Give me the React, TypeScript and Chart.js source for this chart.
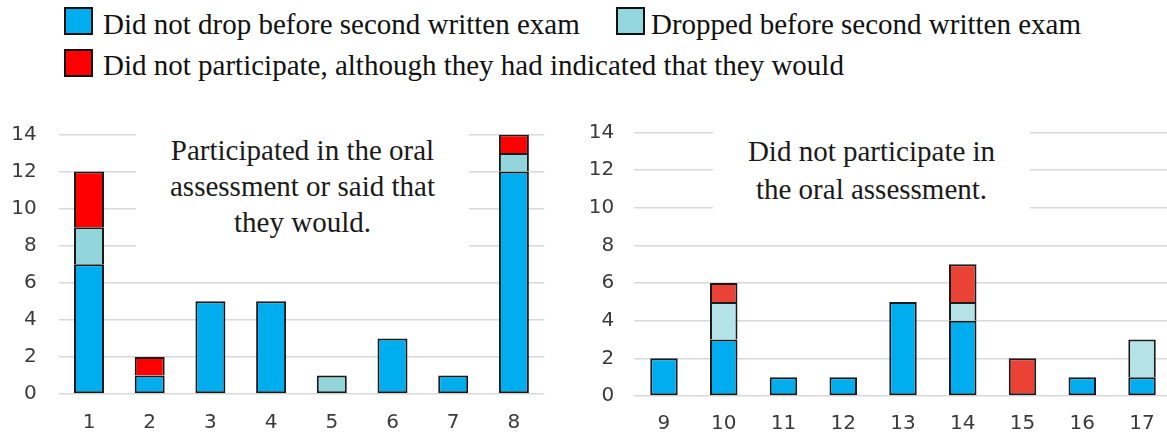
import React, { useEffect, useRef } from "react";
import { Chart, registerables } from "chart.js";
Chart.register(...registerables);

const leftCategories = ["1", "2", "3", "4", "5", "6", "7", "8"];
const leftNotDropped = [7, 1, 5, 5, 0, 3, 1, 12];
const leftDropped = [2, 0, 0, 0, 1, 0, 0, 1];
const leftNoShow = [3, 1, 0, 0, 0, 0, 0, 1];

const rightCategories = ["9", "10", "11", "12", "13", "14", "15", "16", "17"];
const rightNotDropped = [2, 3, 1, 1, 5, 4, 0, 1, 1];
const rightDropped = [0, 2, 0, 0, 0, 1, 0, 0, 2];
const rightNoShow = [0, 1, 0, 0, 0, 2, 2, 0, 0];

const yMax = 14;
const yStep = 2;

const seriesNames = [
  "Did not drop before second written exam",
  "Dropped before second written exam",
  "Did not participate, although they had indicated that they would",
];
const leftColors = ["#00AEEF", "#92D5DB", "#FF0000"];
const rightColors = ["#00AEEF", "#B5E3E8", "#EA4335"];
const legendColors = ["#00AEEF", "#92D7DD", "#FF0000"];

const leftNote = ["Participated in the oral", "assessment or said that", "they would."];
const rightNote = ["Did not participate in", "the oral assessment."];

const SERIF = '"Liberation Serif", "Times New Roman", serif';
const SANS = '"DejaVu Sans", "Liberation Sans", sans-serif';

function nz(a: number[]) {
  return a.map((v) => (v === 0 ? null : v));
}

function makeConfig(
  cats: string[],
  series: number[][],
  colors: string[],
  yWidth: number,
  xHeight: number,
  padTop: number,
  padRight: number,
  barPct: number,
  yPad: number,
  xPad: number
): any {
  return {
    type: "bar",
    data: {
      labels: cats,
      datasets: series.map((s, i) => ({
        label: seriesNames[i],
        data: nz(s),
        backgroundColor: colors[i],
        borderColor: "#1a1a1a",
        borderWidth: 2,
        borderSkipped: (ctx: any) => {
          const idx = ctx.dataIndex;
          for (let k = 0; k < i; k++) {
            if (series[k][idx]) return "start";
          }
          return false;
        },
        categoryPercentage: 1,
        barPercentage: barPct,
      })),
    },
    options: {
      animation: false,
      responsive: false,
      maintainAspectRatio: false,
      layout: { padding: { top: padTop, right: padRight, left: 0, bottom: 0 } },
      plugins: { legend: { display: false }, tooltip: { enabled: false } },
      scales: {
        x: {
          stacked: true,
          grid: { display: false, drawTicks: false },
          border: { display: false },
          ticks: { color: "#3a3a3a", font: { family: SANS, size: 20 }, padding: xPad },
          afterFit: (s: any) => {
            s.height = xHeight;
          },
        },
        y: {
          stacked: true,
          min: 0,
          max: yMax,
          grid: { color: "#d9d9d9", lineWidth: 1.6, drawTicks: false },
          border: { display: false },
          ticks: {
            stepSize: yStep,
            color: "#3a3a3a",
            font: { family: SANS, size: 20 },
            padding: yPad,
          },
          afterFit: (s: any) => {
            s.width = yWidth;
          },
        },
      },
    },
  };
}

export default function App() {
  const leftRef = useRef<HTMLCanvasElement | null>(null);
  const rightRef = useRef<HTMLCanvasElement | null>(null);

  useEffect(() => {
    const c1 = new Chart(
      leftRef.current as HTMLCanvasElement,
      makeConfig(
        leftCategories,
        [leftNotDropped, leftDropped, leftNoShow],
        leftColors,
        58.65,
        46,
        34.5,
        15.75,
        0.494,
        22,
        17
      )
    );
    const c2 = new Chart(
      rightRef.current as HTMLCanvasElement,
      makeConfig(
        rightCategories,
        [rightNotDropped, rightDropped, rightNoShow],
        rightColors,
        64.1,
        44,
        32.5,
        8.1,
        0.46,
        20,
        16
      )
    );
    return () => {
      c1.destroy();
      c2.destroy();
    };
  }, []);

  const legendBox = (i: number, left: number, top: number) => (
    <div
      key={"b" + i}
      style={{
        position: "absolute",
        left,
        top,
        width: 29,
        height: 28,
        boxSizing: "border-box",
        background: legendColors[i],
        border: "2px solid #111",
      }}
    />
  );
  const legendText = (i: number, left: number, top: number) => (
    <div
      key={"t" + i}
      style={{
        position: "absolute",
        left,
        top,
        whiteSpace: "nowrap",
        fontFamily: SERIF,
        fontSize: 29,
        lineHeight: "34px",
        color: "#111",
      }}
    >
      {seriesNames[i]}
    </div>
  );

  return (
    <div
      style={{
        position: "absolute",
        left: 0,
        top: 0,
        width: 1167,
        height: 440,
        overflow: "hidden",
        background: "#fff",
      }}
    >
      {legendBox(0, 64, 7)}
      {legendText(0, 103, 6.5)}
      {legendBox(1, 616, 7)}
      {legendText(1, 651, 6.5)}
      {legendBox(2, 64, 49)}
      {legendText(2, 103, 48.2)}

      <canvas
        ref={leftRef}
        width={560}
        height={340}
        style={{ position: "absolute", left: 0, top: 100, width: 560, height: 340 }}
      />
      <canvas
        ref={rightRef}
        width={610}
        height={340}
        style={{ position: "absolute", left: 570, top: 100, width: 610, height: 340 }}
      />

      <div
        style={{
          position: "absolute",
          left: 136,
          top: 124,
          width: 333,
          height: 138,
          background: "#fff",
          textAlign: "center",
          fontFamily: SERIF,
          fontSize: 29,
          lineHeight: "36px",
          color: "#1a1a1a",
          paddingTop: 8,
          boxSizing: "border-box",
          whiteSpace: "nowrap",
        }}
      >
        {leftNote.map((t, i) => (
          <div key={i}>{t}</div>
        ))}
      </div>
      <div
        style={{
          position: "absolute",
          left: 713,
          top: 124,
          width: 317,
          height: 102,
          background: "#fff",
          textAlign: "center",
          fontFamily: SERIF,
          fontSize: 29,
          lineHeight: "38px",
          color: "#1a1a1a",
          paddingTop: 8,
          boxSizing: "border-box",
          whiteSpace: "nowrap",
        }}
      >
        {rightNote.map((t, i) => (
          <div key={i}>{t}</div>
        ))}
      </div>
    </div>
  );
}
